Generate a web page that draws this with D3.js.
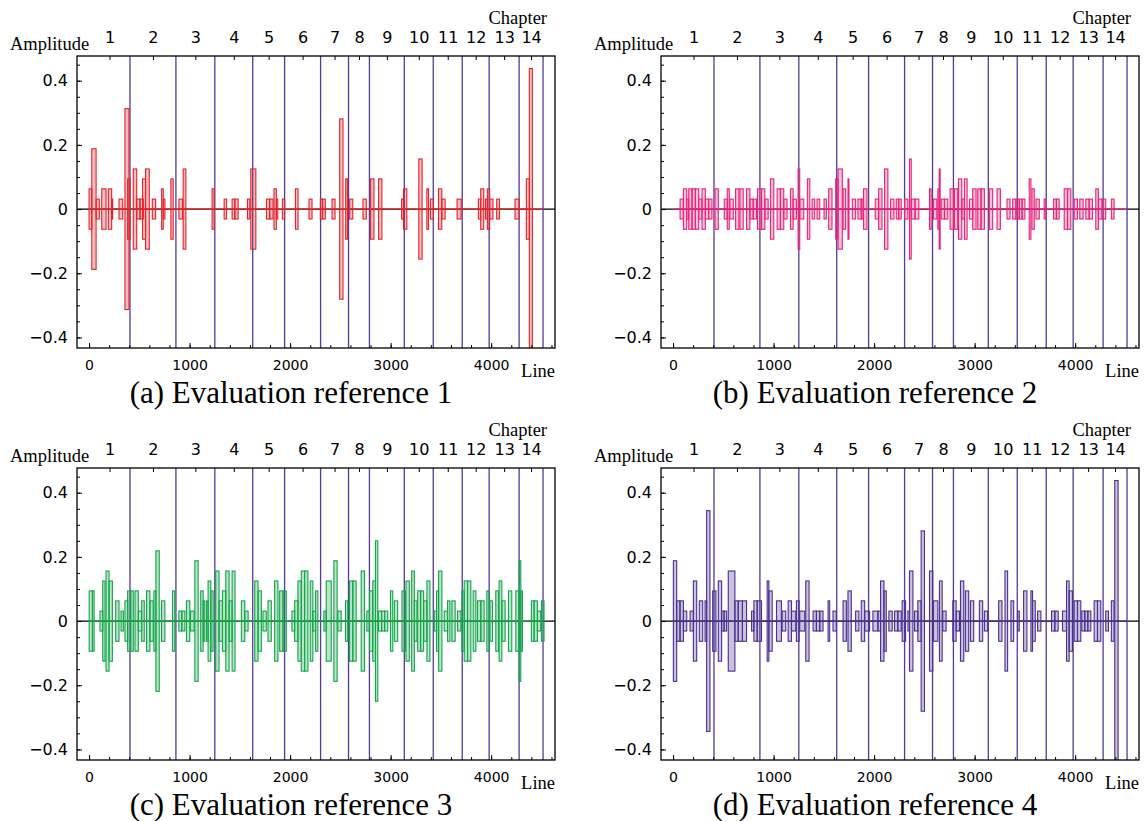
<!DOCTYPE html>
<html>
<head>
<meta charset="utf-8">
<script src="https://cdn.jsdelivr.net/npm/d3@7"></script>
<style>
  body { margin: 0; background: #fff; }
  .tick text { fill: #000; }
</style>
</head>
<body>
<div id="chart"></div>
<script>
// chapter boundaries (line numbers); 14 chapters between them
const chapterBounds = [0, 407, 864, 1251, 1628, 1945, 2303, 2581, 2789, 3136, 3424, 3712, 3980, 4278, 4516];
const chapterNames = ['1', '2', '3', '4', '5', '6', '7', '8', '9', '10', '11', '12', '13', '14'];
const lineTicks = [0, 1000, 2000, 3000, 4000];
const ampTicks = [-0.4, -0.2, 0, 0.2, 0.4];
const captions = ['(a) Evaluation reference 1', '(b) Evaluation reference 2', '(c) Evaluation reference 3', '(d) Evaluation reference 4'];
const seriesColors = ['#e3242b', '#e8247c', '#14a64a', '#4b3190'];

// pulses: [start line, end line, amplitude] (signal swings between +a and -a)
const pulsesA = [
  [0, 27, 0.063], [27, 70, 0.188], [70, 102, 0.031], [126, 169, 0.063], [192, 225, 0.063],
  [225, 235, 0.031], [298, 335, 0.031], [357, 397, 0.313], [384, 407, 0.094], [440, 474, 0.125],
  [474, 507, 0.031], [507, 540, 0.031], [532, 562, 0.094], [562, 599, 0.125], [629, 662, 0.031],
  [722, 738, 0.063], [738, 755, 0.031], [814, 837, 0.094], [894, 930, 0.031], [936, 963, 0.125],
  [1224, 1244, 0.063], [1344, 1368, 0.031], [1423, 1450, 0.031], [1450, 1483, 0.031], [1576, 1599, 0.031],
  [1609, 1659, 0.125], [1765, 1797, 0.031], [1797, 1830, 0.031], [1840, 1863, 0.063], [1863, 1877, 0.031],
  [1923, 1946, 0.031], [2053, 2079, 0.063], [2188, 2218, 0.031], [2301, 2321, 0.031], [2324, 2350, 0.031],
  [2417, 2447, 0.031], [2493, 2526, 0.281], [2553, 2570, 0.094], [2593, 2623, 0.031], [2725, 2758, 0.031],
  [2801, 2834, 0.094], [2880, 2913, 0.094], [3109, 3128, 0.031], [3128, 3161, 0.063], [3280, 3313, 0.156],
  [3360, 3377, 0.063], [3396, 3426, 0.031], [3476, 3509, 0.063], [3509, 3542, 0.031], [3661, 3701, 0.031],
  [3873, 3896, 0.031], [3896, 3926, 0.063], [3943, 3962, 0.031], [3962, 3985, 0.063], [3985, 4018, 0.031],
  [4055, 4082, 0.031], [4237, 4280, 0.031], [4350, 4380, 0.094], [4380, 4410, 0.438]
];

const pulsesB = [
  [70, 103, 0.031], [103, 136, 0.063], [136, 156, 0.031], [156, 189, 0.063], [189, 222, 0.063],
  [222, 255, 0.063], [255, 288, 0.031], [288, 321, 0.063], [321, 354, 0.031], [354, 387, 0.031],
  [417, 450, 0.063], [509, 539, 0.031], [539, 559, 0.063], [565, 599, 0.031], [622, 655, 0.063],
  [665, 698, 0.063], [731, 764, 0.063], [764, 797, 0.031], [797, 830, 0.031], [840, 880, 0.063],
  [880, 913, 0.063], [913, 946, 0.031], [969, 1002, 0.094], [1035, 1068, 0.063], [1068, 1101, 0.063],
  [1101, 1134, 0.031], [1168, 1194, 0.063], [1194, 1227, 0.031], [1244, 1260, 0.125], [1260, 1300, 0.031],
  [1336, 1360, 0.094], [1383, 1409, 0.031], [1432, 1459, 0.031], [1502, 1525, 0.031], [1548, 1581, 0.063],
  [1618, 1641, 0.094], [1641, 1684, 0.125], [1691, 1717, 0.063], [1740, 1750, 0.094], [1783, 1816, 0.031],
  [1839, 1872, 0.031], [1872, 1889, 0.031], [1895, 1929, 0.063], [2011, 2045, 0.031], [2045, 2078, 0.063],
  [2104, 2137, 0.125], [2164, 2197, 0.031], [2220, 2245, 0.031], [2245, 2270, 0.031], [2303, 2336, 0.031],
  [2352, 2369, 0.156], [2369, 2407, 0.031], [2407, 2445, 0.031], [2551, 2567, 0.063], [2590, 2624, 0.031],
  [2634, 2647, 0.063], [2647, 2657, 0.125], [2667, 2700, 0.031], [2700, 2733, 0.031], [2756, 2789, 0.063],
  [2799, 2832, 0.063], [2839, 2872, 0.094], [2872, 2898, 0.031], [2898, 2925, 0.094], [2948, 2981, 0.031],
  [2981, 3014, 0.063], [3031, 3064, 0.063], [3064, 3097, 0.063], [3146, 3179, 0.063], [3223, 3256, 0.063],
  [3322, 3352, 0.031], [3378, 3411, 0.031], [3411, 3444, 0.031], [3444, 3472, 0.031], [3472, 3500, 0.031],
  [3543, 3560, 0.094], [3570, 3593, 0.063], [3610, 3643, 0.031], [3692, 3709, 0.031], [3785, 3813, 0.031],
  [3813, 3841, 0.031], [3891, 3924, 0.063], [3924, 3957, 0.063], [3990, 4023, 0.031], [4046, 4079, 0.031],
  [4106, 4139, 0.031], [4139, 4172, 0.031], [4205, 4231, 0.063], [4231, 4268, 0.031], [4268, 4304, 0.031],
  [4360, 4387, 0.031]
];

const pulsesC = [
  [1, 34, 0.094], [34, 50, 0.094], [109, 136, 0.031], [136, 159, 0.125], [169, 199, 0.156],
  [199, 232, 0.125], [265, 298, 0.063], [318, 341, 0.031], [357, 384, 0.063], [384, 414, 0.094],
  [414, 440, 0.094], [457, 490, 0.094], [490, 523, 0.031], [523, 549, 0.063], [572, 605, 0.094],
  [605, 638, 0.063], [645, 665, 0.094], [665, 698, 0.219], [721, 754, 0.063], [830, 853, 0.094],
  [893, 923, 0.031], [923, 953, 0.031], [969, 1002, 0.063], [1009, 1045, 0.031], [1052, 1085, 0.188],
  [1111, 1135, 0.094], [1135, 1151, 0.063], [1168, 1184, 0.063], [1184, 1211, 0.125], [1211, 1234, 0.094],
  [1260, 1293, 0.156], [1293, 1327, 0.063], [1327, 1360, 0.094], [1360, 1393, 0.156], [1393, 1423, 0.063],
  [1423, 1452, 0.156], [1515, 1549, 0.063], [1549, 1582, 0.031], [1648, 1681, 0.125], [1681, 1714, 0.094],
  [1730, 1763, 0.031], [1780, 1813, 0.063], [1846, 1879, 0.125], [1896, 1929, 0.094], [1929, 1962, 0.094],
  [2018, 2045, 0.031], [2045, 2078, 0.063], [2078, 2111, 0.125], [2111, 2144, 0.156], [2144, 2177, 0.156],
  [2200, 2226, 0.125], [2226, 2253, 0.031], [2253, 2276, 0.094], [2336, 2359, 0.031], [2359, 2409, 0.125],
  [2435, 2468, 0.188], [2475, 2508, 0.031], [2551, 2574, 0.063], [2591, 2624, 0.125], [2624, 2657, 0.125],
  [2707, 2740, 0.156], [2763, 2789, 0.031], [2789, 2822, 0.094], [2822, 2849, 0.125], [2849, 2872, 0.250],
  [2879, 2910, 0.031], [2910, 2940, 0.031], [2940, 2971, 0.031], [2998, 3021, 0.094], [3037, 3070, 0.063],
  [3113, 3147, 0.094], [3153, 3186, 0.125], [3209, 3236, 0.156], [3236, 3262, 0.063], [3269, 3298, 0.094],
  [3298, 3328, 0.094], [3328, 3361, 0.063], [3361, 3391, 0.125], [3434, 3457, 0.031], [3457, 3477, 0.094],
  [3477, 3510, 0.156], [3533, 3566, 0.031], [3566, 3590, 0.063], [3609, 3642, 0.063], [3666, 3699, 0.031],
  [3709, 3732, 0.094], [3732, 3765, 0.125], [3765, 3798, 0.125], [3821, 3848, 0.094], [3864, 3897, 0.063],
  [3897, 3930, 0.063], [3957, 3980, 0.094], [3987, 4013, 0.063], [4046, 4073, 0.094], [4079, 4106, 0.125],
  [4106, 4139, 0.063], [4172, 4205, 0.094], [4245, 4278, 0.094], [4278, 4295, 0.188], [4295, 4311, 0.094],
  [4400, 4427, 0.063], [4427, 4460, 0.063], [4460, 4493, 0.031], [4500, 4526, 0.063]
];

const pulsesD = [
  [3, 36, 0.188], [36, 69, 0.063], [69, 103, 0.063], [103, 136, 0.031], [169, 202, 0.031],
  [202, 235, 0.125], [261, 295, 0.063], [318, 334, 0.063], [334, 367, 0.344], [394, 427, 0.094],
  [450, 483, 0.125], [483, 508, 0.031], [508, 533, 0.031], [549, 615, 0.156], [615, 648, 0.063],
  [648, 690, 0.063], [690, 731, 0.063], [781, 804, 0.031], [804, 837, 0.063], [837, 880, 0.063],
  [936, 953, 0.125], [953, 986, 0.094], [1029, 1078, 0.063], [1085, 1121, 0.031], [1145, 1178, 0.063],
  [1178, 1221, 0.031], [1227, 1254, 0.063], [1260, 1310, 0.031], [1320, 1353, 0.125], [1393, 1426, 0.031],
  [1426, 1459, 0.031], [1459, 1492, 0.031], [1542, 1558, 0.063], [1591, 1624, 0.031], [1691, 1724, 0.063],
  [1740, 1773, 0.094], [1816, 1849, 0.031], [1872, 1906, 0.063], [1906, 1955, 0.031], [1988, 2038, 0.031],
  [2038, 2064, 0.031], [2064, 2098, 0.125], [2098, 2121, 0.094], [2147, 2180, 0.031], [2203, 2236, 0.031],
  [2236, 2270, 0.031], [2279, 2313, 0.063], [2336, 2352, 0.031], [2352, 2386, 0.156], [2402, 2435, 0.031],
  [2435, 2468, 0.063], [2468, 2501, 0.281], [2551, 2584, 0.156], [2590, 2634, 0.063], [2650, 2677, 0.125],
  [2683, 2716, 0.031], [2783, 2816, 0.063], [2816, 2849, 0.031], [2859, 2892, 0.125], [2908, 2941, 0.094],
  [2958, 2991, 0.063], [3047, 3080, 0.063], [3097, 3130, 0.031], [3239, 3272, 0.063], [3302, 3328, 0.156],
  [3361, 3388, 0.063], [3428, 3444, 0.031], [3487, 3520, 0.094], [3560, 3576, 0.094], [3576, 3603, 0.063],
  [3626, 3659, 0.031], [3765, 3798, 0.031], [3798, 3831, 0.031], [3874, 3914, 0.031], [3914, 3940, 0.125],
  [3940, 3973, 0.094], [3990, 4023, 0.063], [4023, 4056, 0.063], [4066, 4096, 0.031], [4096, 4126, 0.031],
  [4126, 4156, 0.031], [4189, 4222, 0.063], [4222, 4255, 0.063], [4304, 4331, 0.031], [4360, 4387, 0.063],
  [4394, 4427, 0.438]
];

const allPulses = [pulsesA, pulsesB, pulsesC, pulsesD];

const chapterColor = '#553a9b';
const width = 1144, height = 821;
const panelW = 478, panelH = 292;
const panelPos = [[77, 56], [661, 56], [77, 468], [661, 468]];

const svg = d3.select('#chart').append('svg')
  .attr('width', width)
  .attr('height', height)
  .style('background', '#fff');

const mids = chapterBounds.slice(1).map((b, i) => (b + chapterBounds[i]) / 2);

allPulses.forEach((pulses, p) => {
  const color = seriesColors[p];
  const g = svg.append('g')
    .attr('transform', `translate(${panelPos[p][0]},${panelPos[p][1]})`);

  const x = d3.scaleLinear().domain([-120, 4635]).range([0, panelW]);
  const y = d3.scaleLinear().domain([-0.433, 0.477]).range([panelH, 0]);

  g.append('clipPath').attr('id', 'clip' + p)
    .append('rect').attr('width', panelW).attr('height', panelH);

  const plot = g.append('g').attr('clip-path', `url(#clip${p})`);

  // zero line
  plot.append('line')
    .attr('x1', 0).attr('x2', panelW)
    .attr('y1', y(0)).attr('y2', y(0))
    .attr('stroke', '#000').attr('stroke-width', 1.2);

  // chapter boundaries
  plot.selectAll('.chap')
    .data(chapterBounds.slice(1))
    .enter().append('line')
    .attr('x1', d => x(d)).attr('x2', d => x(d))
    .attr('y1', 0).attr('y2', panelH)
    .attr('stroke', chapterColor).attr('stroke-width', 1.3);

  // signal baseline
  plot.append('line')
    .attr('x1', x(0)).attr('x2', x(chapterBounds[chapterBounds.length - 1]))
    .attr('y1', y(0)).attr('y2', y(0))
    .attr('stroke', color).attr('stroke-width', 1.3);

  plot.selectAll('.pulse')
    .data(pulses)
    .enter().append('rect')
    .attr('x', d => x(d[0]))
    .attr('width', d => x(d[1]) - x(d[0]))
    .attr('y', d => y(d[2]))
    .attr('height', d => y(-d[2]) - y(d[2]))
    .attr('fill', color).attr('fill-opacity', 0.3)
    .attr('stroke', color).attr('stroke-width', 1.1);

  // frame
  g.append('rect')
    .attr('width', panelW).attr('height', panelH)
    .attr('fill', 'none').attr('stroke', '#000').attr('stroke-width', 1.3);

  // left axis
  const yAxis = g.append('g')
    .call(d3.axisLeft(y).tickValues(ampTicks).tickSize(-5).tickPadding(9)
      .tickFormat(d => d === 0 ? '0' : d3.format('.1f')(d).replace('-', '\u2212')));
  yAxis.select('.domain').remove();
  yAxis.selectAll('text').style('font-family', 'DejaVu Sans').style('font-size', '16px');

  const yMinor = g.append('g')
    .call(d3.axisLeft(y).tickValues(d3.range(-0.4, 0.46, 0.05)).tickSize(-3).tickFormat(''));
  yMinor.select('.domain').remove();

  // bottom axis
  const xAxis = g.append('g')
    .attr('transform', `translate(0,${panelH})`)
    .call(d3.axisBottom(x).tickValues(lineTicks).tickSize(-5).tickPadding(12).tickFormat(d3.format('d')));
  xAxis.select('.domain').remove();
  xAxis.selectAll('text').style('font-family', 'DejaVu Sans').style('font-size', '14px');

  const xMinor = g.append('g')
    .attr('transform', `translate(0,${panelH})`)
    .call(d3.axisBottom(x).tickValues(d3.range(0, 4601, 200)).tickSize(-3).tickFormat(''));
  xMinor.select('.domain').remove();

  // top axis: chapters
  const cAxis = g.append('g')
    .call(d3.axisTop(x).tickValues(mids).tickSize(-4).tickPadding(13)
      .tickFormat((d, i) => chapterNames[i]));
  cAxis.select('.domain').remove();
  cAxis.selectAll('text').attr('dy', 0).style('font-family', 'DejaVu Sans').style('font-size', '16px');

  // labels
  g.append('text')
    .attr('x', -67).attr('y', -6)
    .style('font-family', 'Liberation Serif').style('font-size', '18.5px')
    .text('Amplitude');
  g.append('text')
    .attr('x', panelW - 8).attr('y', -32)
    .attr('text-anchor', 'end')
    .style('font-family', 'Liberation Serif').style('font-size', '18.5px')
    .text('Chapter');
  g.append('text')
    .attr('x', panelW).attr('y', panelH + 29)
    .attr('text-anchor', 'end')
    .style('font-family', 'Liberation Serif').style('font-size', '18.5px')
    .text('Line');
  g.append('text')
    .attr('x', panelW / 2 - 25).attr('y', panelH + 55)
    .attr('text-anchor', 'middle')
    .style('font-family', 'Liberation Serif').style('font-size', '31px')
    .text(captions[p]);
});
</script>
</body>
</html>
